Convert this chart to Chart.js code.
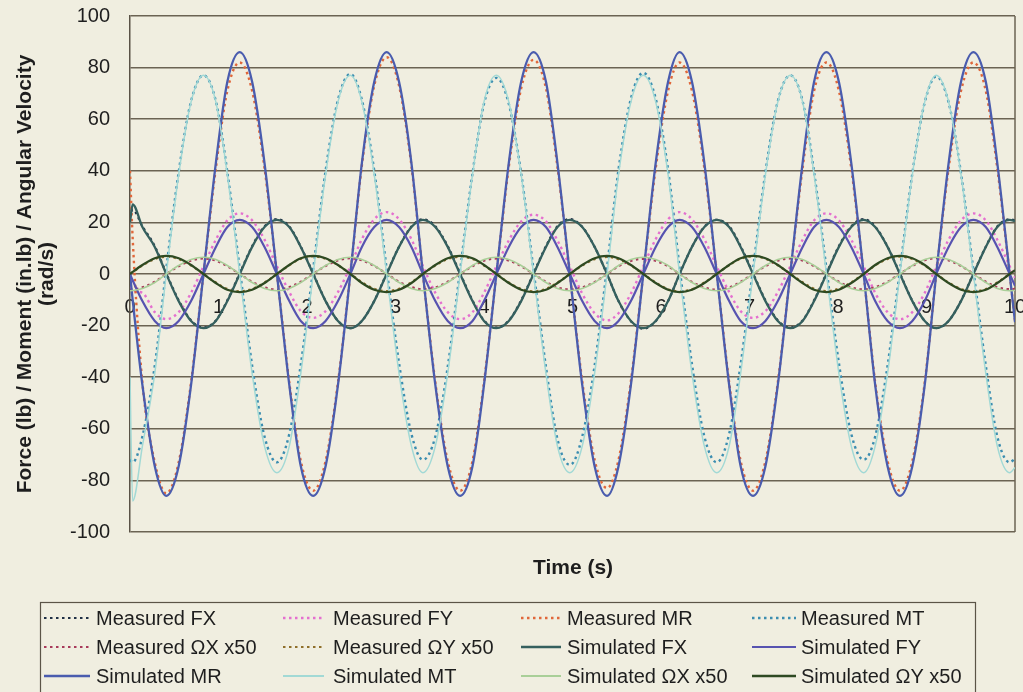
<!DOCTYPE html>
<html>
<head>
<meta charset="utf-8">
<title>Force / Moment / Angular Velocity vs Time</title>
<script src="https://cdn.jsdelivr.net/npm/chart.js@4.4.1/dist/chart.umd.min.js"></script>
<style>
    html, body { margin: 0; padding: 0; background: #f0eee0; }
    #chart { display: block; }
</style>
</head>
<body>
<canvas id="chart" width="1023" height="692"></canvas>
<script>
// Sample times (s)
const timeS = [0, 0.03, 0.14, 0.28, 0.41, 0.55, 0.69, 0.83, 0.97, 1.10, 1.24, 1.38, 1.52, 1.66,
    1.80, 1.93, 2.07, 2.21, 2.35, 2.49, 2.62, 2.76, 2.90, 3.04, 3.18, 3.31,
    3.45, 3.59, 3.73, 3.87, 4.00, 4.14, 4.28, 4.42, 4.56, 4.70, 4.83, 4.97,
    5.11, 5.25, 5.39, 5.52, 5.66, 5.80, 5.94, 6.08, 6.21, 6.35, 6.49, 6.63,
    6.77, 6.90, 7.04, 7.18, 7.32, 7.46, 7.60, 7.73, 7.87, 8.01, 8.15, 8.29,
    8.42, 8.56, 8.70, 8.84, 8.98, 9.11, 9.25, 9.39, 9.53, 9.67, 9.80, 9.94, 10];

// Measured values
const measuredFX = [22, 25,
    18.5, 10.8, 0.3, -10.2, -18, -20.8, -18, -10.2, 0.3, 10.8, 18.5, 21.3,
    18.4, 10.6, 0.2, -10.4, -18.2, -21, -18.2, -10.4, 0.2, 10.6, 18.4, 21.2,
    18.5, 10.8, 0.3, -10.2, -18, -20.8, -18, -10.2, 0.3, 10.8, 18.5, 21.3,
    18.3, 10.5, 0, -10.5, -18.3, -21.2, -18.3, -10.5, 0, 10.5, 18.3, 21,
    18.5, 10.8, 0.3, -10.2, -18, -20.8, -18, -10.2, 0.3, 10.8, 18.5, 21.3,
    18.4, 10.6, 0.2, -10.4, -18.2, -21, -18.2, -10.4, 0.2, 10.6, 18.4, 21.2,
    20.8];
const measuredFY = [-5, -6.5,
    -7.3, -14.8, -17.5, -14.8, -7.3, 3, 13.3, 20.8, 23.5, 20.8, 13.3, 3,
    -7, -14.4, -17, -14.4, -7, 3, 13.5, 21.2, 24, 21.2, 13.5, 3,
    -7.3, -14.8, -17.5, -14.8, -7.3, 3, 13, 20.4, 23, 20.4, 13, 3,
    -7.6, -15.2, -18, -15.2, -7.6, 3, 13.5, 21.2, 24, 21.2, 13.5, 3,
    -7, -14.4, -17, -14.4, -7, 3, 13.3, 20.8, 23.5, 20.8, 13.3, 3,
    -7.3, -14.8, -17.5, -14.8, -7.3, 3, 13.3, 20.8, 23.5, 20.8, 13.3, 3,
    -1.5];
const measuredMR = [40, 14,
    -42, -73, -85, -73, -42, 0, 41, 71, 82, 71, 41, 0,
    -42, -72.5, -84, -72.5, -42, 0, 42, 73, 84, 73, 42, 0,
    -42, -72.5, -84, -72.5, -42, 0, 41.5, 72, 83, 72, 41.5, 0,
    -41.5, -72, -83, -72, -41.5, 0, 41, 71, 82, 71, 41, 0,
    -42, -72.5, -84, -72.5, -42, 0, 41, 71, 82, 71, 41, 0,
    -42, -72.5, -84, -72.5, -42, 0, 41, 71, 82, 71, 41, 0,
    -18];
const measuredMT = [-72, -73,
    -63, -35.5, 2, 39.5, 67, 77, 67, 39.5, 2, -35.5, -63, -73,
    -62, -35, 2, 40, 67.5, 77.5, 67.5, 40, 2, -34.5, -62, -72,
    -63, -36, 1.5, 39, 66, 76, 66, 39, 1.5, -36, -64, -74,
    -63, -35.5, 2.5, 40.5, 68, 78, 68, 40.5, 2.5, -35, -63, -73,
    -62, -35, 2, 39.5, 67, 77, 67, 39.5, 2, -34.5, -62, -72,
    -63, -35.5, 1.5, 39, 66.5, 76.5, 66.5, 39, 1.5, -35.5, -63, -73,
    -71.5];
const measuredOX = [-6, -6,
    -5.2, -3, 0, 3, 5.2, 6, 5.2, 3, 0, -3, -5.2, -6,
    -5.1, -3, 0.1, 3.1, 5.3, 6.1, 5.3, 3.1, 0.1, -3, -5.1, -5.9,
    -5.2, -3, 0, 3, 5.2, 6, 5.2, 3, 0, -3, -5.2, -6,
    -5.2, -3.1, 0, 3, 5.1, 5.9, 5.1, 3, 0, -3.1, -5.2, -6.1,
    -5.2, -3, 0, 3, 5.2, 6, 5.2, 3, 0, -3, -5.2, -6,
    -5.1, -3, 0.1, 3.1, 5.3, 6.1, 5.3, 3.1, 0.1, -3, -5.1, -5.9,
    -5.8];
const measuredOY = [0, 0.7,
    3.3, 5.8, 6.7, 5.8, 3.3, 0, -3.3, -5.8, -6.7, -5.8, -3.3, 0,
    3.4, 5.9, 6.8, 5.9, 3.4, 0.1, -3.2, -5.7, -6.6, -5.7, -3.2, 0,
    3.3, 5.8, 6.7, 5.8, 3.3, 0, -3.3, -5.8, -6.7, -5.8, -3.3, 0,
    3.3, 5.7, 6.6, 5.7, 3.3, 0, -3.3, -5.9, -6.8, -5.9, -3.3, 0,
    3.4, 5.9, 6.8, 5.9, 3.4, 0.1, -3.2, -5.7, -6.6, -5.7, -3.2, 0,
    3.3, 5.8, 6.7, 5.8, 3.3, 0, -3.3, -5.8, -6.7, -5.8, -3.3, 0,
    1.4];

// Simulated values
const simulatedFX = [20, 27,
    18.2, 10.5, 0, -10.5, -18.2, -21, -18.2, -10.5, 0, 10.5, 18.2, 21,
    18.2, 10.5, 0, -10.5, -18.2, -21, -18.2, -10.5, 0, 10.5, 18.2, 21,
    18.2, 10.5, 0, -10.5, -18.2, -21, -18.2, -10.5, 0, 10.5, 18.2, 21,
    18.2, 10.5, 0, -10.5, -18.2, -21, -18.2, -10.5, 0, 10.5, 18.2, 21,
    18.2, 10.5, 0, -10.5, -18.2, -21, -18.2, -10.5, 0, 10.5, 18.2, 21,
    18.2, 10.5, 0, -10.5, -18.2, -21, -18.2, -10.5, 0, 10.5, 18.2, 21,
    20.5];
const simulatedFY = [0, -2.4,
    -10.5, -18.2, -21, -18.2, -10.5, 0, 10.5, 18.2, 21, 18.2, 10.5, 0,
    -10.5, -18.2, -21, -18.2, -10.5, 0, 10.5, 18.2, 21, 18.2, 10.5, 0,
    -10.5, -18.2, -21, -18.2, -10.5, 0, 10.5, 18.2, 21, 18.2, 10.5, 0,
    -10.5, -18.2, -21, -18.2, -10.5, 0, 10.5, 18.2, 21, 18.2, 10.5, 0,
    -10.5, -18.2, -21, -18.2, -10.5, 0, 10.5, 18.2, 21, 18.2, 10.5, 0,
    -10.5, -18.2, -21, -18.2, -10.5, 0, 10.5, 18.2, 21, 18.2, 10.5, 0,
    -4.6];
const simulatedMR = [0, -10,
    -43, -74.5, -86, -74.5, -43, 0, 43, 74.5, 86, 74.5, 43, 0,
    -43, -74.5, -86, -74.5, -43, 0, 43, 74.5, 86, 74.5, 43, 0,
    -43, -74.5, -86, -74.5, -43, 0, 43, 74.5, 86, 74.5, 43, 0,
    -43, -74.5, -86, -74.5, -43, 0, 43, 74.5, 86, 74.5, 43, 0,
    -43, -74.5, -86, -74.5, -43, 0, 43, 74.5, 86, 74.5, 43, 0,
    -43, -74.5, -86, -74.5, -43, 0, 43, 74.5, 86, 74.5, 43, 0,
    -18.7];
const simulatedMT = [-40, -88,
    -66.7, -38.5, 0, 38.5, 66.7, 77, 66.7, 38.5, 0, -38.5, -66.7, -77,
    -66.7, -38.5, 0, 38.5, 66.7, 77, 66.7, 38.5, 0, -38.5, -66.7, -77,
    -66.7, -38.5, 0, 38.5, 66.7, 77, 66.7, 38.5, 0, -38.5, -66.7, -77,
    -66.7, -38.5, 0, 38.5, 66.7, 77, 66.7, 38.5, 0, -38.5, -66.7, -77,
    -66.7, -38.5, 0, 38.5, 66.7, 77, 66.7, 38.5, 0, -38.5, -66.7, -77,
    -66.7, -38.5, 0, 38.5, 66.7, 77, 66.7, 38.5, 0, -38.5, -66.7, -77,
    -75];
const simulatedOX = [-6.5, -6.4,
    -5.6, -3.3, 0, 3.3, 5.6, 6.5, 5.6, 3.3, 0, -3.3, -5.6, -6.5,
    -5.6, -3.3, 0, 3.3, 5.6, 6.5, 5.6, 3.3, 0, -3.3, -5.6, -6.5,
    -5.6, -3.3, 0, 3.3, 5.6, 6.5, 5.6, 3.3, 0, -3.3, -5.6, -6.5,
    -5.6, -3.3, 0, 3.3, 5.6, 6.5, 5.6, 3.3, 0, -3.3, -5.6, -6.5,
    -5.6, -3.3, 0, 3.3, 5.6, 6.5, 5.6, 3.3, 0, -3.3, -5.6, -6.5,
    -5.6, -3.3, 0, 3.3, 5.6, 6.5, 5.6, 3.3, 0, -3.3, -5.6, -6.5,
    -6.3];
const simulatedOY = [0, 0.8,
    3.5, 6.1, 7, 6.1, 3.5, 0, -3.5, -6.1, -7, -6.1, -3.5, 0,
    3.5, 6.1, 7, 6.1, 3.5, 0, -3.5, -6.1, -7, -6.1, -3.5, 0,
    3.5, 6.1, 7, 6.1, 3.5, 0, -3.5, -6.1, -7, -6.1, -3.5, 0,
    3.5, 6.1, 7, 6.1, 3.5, 0, -3.5, -6.1, -7, -6.1, -3.5, 0,
    3.5, 6.1, 7, 6.1, 3.5, 0, -3.5, -6.1, -7, -6.1, -3.5, 0,
    3.5, 6.1, 7, 6.1, 3.5, 0, -3.5, -6.1, -7, -6.1, -3.5, 0,
    1.5];

// Axis ticks
const xTicks = [0, 1, 2, 3, 4, 5, 6, 7, 8, 9, 10];
const yTicks = [-100, -80, -60, -40, -20, 0, 20, 40, 60, 80, 100];

const FONT = '"Liberation Sans", Arial, sans-serif';
const DOTS = [2.5, 3.5];

document.addEventListener("DOMContentLoaded", function() {
    initForceChart();
});

// Builds one line series from a value list
function makeSeries(label, values, color, width, dashed) {
    return {
        label: label,
        data: values.map((v, i) => ({ x: timeS[i], y: v })),
        borderColor: color,
        borderWidth: width,
        borderDash: dashed ? DOTS : [],
        pointRadius: 0,
        fill: false,
        cubicInterpolationMode: 'monotone'
    };
}

// Paper background
const paperBackground = {
    id: 'paperBackground',
    beforeDraw(chart) {
        const ctx = chart.ctx;
        ctx.save();
        ctx.fillStyle = '#f0eee0';
        ctx.fillRect(0, 0, chart.width, chart.height);
        ctx.restore();
    }
};

// Right border of the plot and the x axis title
const plotFrame = {
    id: 'plotFrame',
    beforeDatasetsDraw(chart) {
        const { ctx, chartArea } = chart;
        ctx.save();
        ctx.strokeStyle = '#6b6353';
        ctx.lineWidth = 1.5;
        ctx.beginPath();
        ctx.moveTo(chartArea.right, chartArea.top);
        ctx.lineTo(chartArea.right, chartArea.bottom);
        ctx.stroke();
        ctx.restore();
    },
    afterDraw(chart) {
        const ctx = chart.ctx;
        ctx.save();
        ctx.fillStyle = '#1e1e1e';
        ctx.font = 'bold 21px ' + FONT;
        ctx.textAlign = 'center';
        ctx.textBaseline = 'middle';
        ctx.fillText('Time (s)', 573, 568);
        ctx.restore();
    }
};

// Boxed legend in four columns
const gridLegend = {
    id: 'gridLegend',
    afterDraw(chart) {
        const ctx = chart.ctx;
        const lineStart = [44, 283, 521, 752];
        const lineEnd = [90, 324, 561, 796];
        const textStart = [96, 333, 567, 801];
        const rowY = [618, 647, 676];
        ctx.save();
        ctx.strokeStyle = '#5b5447';
        ctx.lineWidth = 1.2;
        ctx.strokeRect(40.5, 602.5, 935, 100);
        chart.data.datasets.forEach((ds, i) => {
            const col = i % 4;
            const y = rowY[Math.floor(i / 4)];
            ctx.beginPath();
            ctx.setLineDash(ds.borderDash);
            ctx.strokeStyle = ds.borderColor;
            ctx.lineWidth = Math.max(ds.borderWidth, 1.8);
            ctx.moveTo(lineStart[col], y);
            ctx.lineTo(lineEnd[col], y);
            ctx.stroke();
            ctx.setLineDash([]);
            ctx.fillStyle = '#1e1e1e';
            ctx.font = '20px ' + FONT;
            ctx.textBaseline = 'middle';
            ctx.fillText(ds.label, textStart[col], y + 1);
        });
        ctx.restore();
    }
};

function initForceChart() {
    const ctx = document.getElementById('chart');

    const datasets = [
        makeSeries('Measured FX', measuredFX, '#1f2f45', 2.2, true),
        makeSeries('Measured FY', measuredFY, '#e470cf', 2.4, true),
        makeSeries('Measured MR', measuredMR, '#e0673a', 2.4, true),
        makeSeries('Measured MT', measuredMT, '#3b8db0', 2.4, true),
        makeSeries('Measured ΩX x50', measuredOX, '#a83a5a', 2.2, true),
        makeSeries('Measured ΩY x50', measuredOY, '#8f6f2a', 2.2, true),
        makeSeries('Simulated FX', simulatedFX, '#35605e', 2.3, false),
        makeSeries('Simulated FY', simulatedFY, '#5753b0', 2.2, false),
        makeSeries('Simulated MR', simulatedMR, '#4a5cae', 2.3, false),
        makeSeries('Simulated MT', simulatedMT, '#a2d9d5', 1.5, false),
        makeSeries('Simulated ΩX x50', simulatedOX, '#a9cf98', 1.5, false),
        makeSeries('Simulated ΩY x50', simulatedOY, '#2e4a22', 2.3, false)
    ];
    // later series on top
    datasets.forEach((ds, i) => { ds.order = datasets.length - 1 - i; });

    new Chart(ctx, {
        type: 'line',
        data: { datasets: datasets },
        plugins: [paperBackground, plotFrame, gridLegend],
        options: {
            responsive: false,
            animation: false,
            layout: { padding: { left: 0, top: 16, right: 8, bottom: 160 } },
            plugins: {
                legend: { display: false },
                tooltip: { enabled: false }
            },
            scales: {
                x: {
                    type: 'linear',
                    position: { y: 0 },
                    min: 0,
                    max: 10,
                    afterBuildTicks: scale => { scale.ticks = xTicks.map(v => ({ value: v })); },
                    // keep the end labels from pulling the plot inward
                    afterFit: scale => { scale.paddingLeft = 0; scale.paddingRight = 0; },
                    ticks: {
                        autoSkip: false,
                        maxRotation: 0,
                        padding: 21,
                        color: '#1e1e1e',
                        font: { family: FONT, size: 20 }
                    },
                    grid: { display: false, drawTicks: false },
                    border: { display: false }
                },
                y: {
                    min: -100,
                    max: 100,
                    afterBuildTicks: scale => { scale.ticks = yTicks.map(v => ({ value: v })); },
                    afterFit: scale => {
                        scale.width = 130;
                        scale.paddingTop = 0;
                        scale.paddingBottom = 0;
                    },
                    ticks: {
                        padding: 20,
                        color: '#1e1e1e',
                        font: { family: FONT, size: 20 }
                    },
                    grid: { color: '#6b6353', lineWidth: 1.5, drawTicks: false },
                    border: { display: true, color: '#5a5246', width: 1.5 },
                    title: {
                        display: true,
                        text: ['Force (lb) / Moment (in.lb) / Angular Velocity', '(rad/s)'],
                        color: '#1e1e1e',
                        font: { family: FONT, size: 21, weight: 'bold', lineHeight: 1.05 },
                        padding: { top: 14, bottom: 0 }
                    }
                }
            }
        }
    });
}
</script>
</body>
</html>
